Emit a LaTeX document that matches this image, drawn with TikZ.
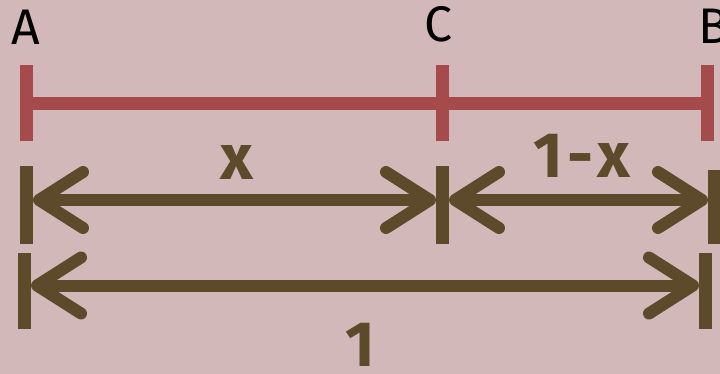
\documentclass[tikz,border=0pt]{standalone}
\usepackage{fontspec}
\setmainfont{Fira Sans}
\usetikzlibrary{arrows.meta}
\definecolor{bg}{HTML}{D3B8B9}
\definecolor{segred}{HTML}{A54B4B}
\definecolor{arrbrown}{HTML}{5C4A2B}
\begin{document}
\begin{tikzpicture}[x=1pt,y=-1pt,
  redline/.style={segred, line width=13pt},
  brtick/.style={arrbrown, line width=13pt},
  barb/.tip={Straight Barb[length=44pt,width=56pt,line cap=round,line join=round]},
  dimarrow/.style={arrbrown, line width=12pt, {barb}-{barb}},
  ptlabel/.style={font=\fontsize{50}{50}\selectfont, text=black, inner sep=0pt, anchor=base},
  dimlabel/.style={font=\bfseries\fontsize{64}{64}\selectfont, text=arrbrown, inner sep=0pt, anchor=base}]
\fill[bg] (0,0) rectangle (720,374);
\useasboundingbox (0,0) rectangle (720,374);
% segment AB
\coordinate (A) at (26.5,103.5);
\coordinate (C) at (442.5,103.5);
\coordinate (B) at (707.5,103.5);
\coordinate (Atop) at (26.5,65);   \coordinate (Abot) at (26.5,141);
\coordinate (Ctop) at (442.5,65);  \coordinate (Cbot) at (442.5,141);
\coordinate (Btop) at (707.5,65);  \coordinate (Bbot) at (707.5,141);
\draw[redline] (A) -- (B);
\draw[redline] (Atop) -- (Abot);
\draw[redline] (Ctop) -- (Cbot);
\draw[redline] (Btop) -- (Bbot);
\node[ptlabel] (labA) at (26,45) {A};
\node[ptlabel] (labC) at (438,42) {C};
\node[ptlabel] (labB) at (714,44) {B};
% row 1
\coordinate (L1top) at (26.5,166);  \coordinate (L1bot) at (26.5,244);
\coordinate (C1top) at (442.5,166); \coordinate (C1bot) at (442.5,244);
\coordinate (R1top) at (714.5,170); \coordinate (R1bot) at (714.5,244);
\draw[brtick] (L1top) -- (L1bot);
\draw[brtick] (C1top) -- (C1bot);
\draw[brtick] (R1top) -- (R1bot);
\coordinate (L1) at (33,200);
\coordinate (C1l) at (436,200);
\coordinate (C1r) at (449,200);
\coordinate (R1) at (708,200);
\draw[dimarrow] (L1) -- (C1l);
\draw[dimarrow] (C1r) -- (R1);
\node[dimlabel] (labx) at (237,180) {x};
\node[dimlabel] (lab1x) at (582,178) {1\kern4pt-\kern4pt x};
% row 2
\coordinate (L2top) at (24.5,253);  \coordinate (L2bot) at (24.5,329);
\coordinate (R2top) at (705.5,253); \coordinate (R2bot) at (705.5,329);
\draw[brtick] (L2top) -- (L2bot);
\draw[brtick] (R2top) -- (R2bot);
\coordinate (L2) at (31,285.5);
\coordinate (R2) at (699,285.5);
\draw[dimarrow] (L2) -- (R2);
\node[dimlabel] (lab1) at (360,366) {1};
\end{tikzpicture}
\end{document}
